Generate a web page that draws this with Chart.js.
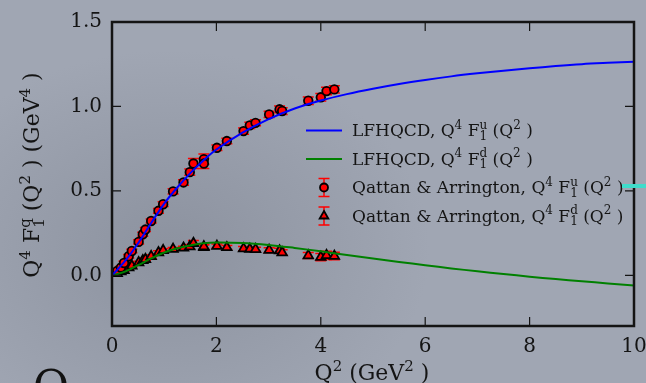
<!DOCTYPE html>
<html>
<head>
<meta charset="utf-8">
<script src="https://cdn.jsdelivr.net/npm/chart.js@4.4.1/dist/chart.umd.min.js"></script>
<style>
  html, body { margin: 0; padding: 0; }
  body {
    width: 646px; height: 383px; overflow: hidden;
    background: radial-gradient(ellipse 260px 200px at 170px 250px, #8c929f 0%, #959ba8 45%, #a0a6b3 100%) , #a0a6b3;
  }
  canvas { display: block; }
</style>
</head>
<body>
<canvas id="chart" width="646" height="383"></canvas>
<script>
// LFHQCD curves, sampled along Q^2
const q2Grid = [0, 0.25, 0.5, 0.75, 1, 1.25, 1.5, 1.75, 2, 2.5, 3, 3.5, 4, 4.5, 5, 5.5, 6, 6.5, 7, 7.5, 8, 8.5, 9, 9.5, 10];
const fuCurve = [0, 0.085, 0.19, 0.31, 0.425, 0.52, 0.605, 0.68, 0.745, 0.845, 0.925, 0.988, 1.035, 1.073, 1.105, 1.133, 1.157, 1.178, 1.196, 1.212, 1.226, 1.239, 1.250, 1.258, 1.265];
const fdCurve = [0, 0.022, 0.06, 0.10, 0.135, 0.16, 0.177, 0.19, 0.195, 0.192, 0.180, 0.162, 0.142, 0.120, 0.099, 0.079, 0.060, 0.041, 0.024, 0.008, -0.008, -0.022, -0.035, -0.048, -0.06];

// Qattan & Arrington flavor-separated data
const q2Data = [0.10, 0.17, 0.23, 0.32, 0.38, 0.51, 0.59, 0.64, 0.75, 0.89, 0.98, 1.17, 1.37, 1.49, 1.56, 1.76, 1.76, 2.01, 2.20, 2.52, 2.64, 2.75, 3.01, 3.21, 3.26, 3.76, 4.00, 4.11, 4.26];
const fuData = [0.026, 0.046, 0.073, 0.113, 0.144, 0.198, 0.243, 0.271, 0.322, 0.382, 0.421, 0.497, 0.550, 0.611, 0.662, 0.688, 0.662, 0.755, 0.795, 0.854, 0.888, 0.903, 0.953, 0.983, 0.973, 1.034, 1.054, 1.091, 1.101];
const fuErr = [0.008, 0.008, 0.010, 0.010, 0.010, 0.012, 0.012, 0.012, 0.012, 0.014, 0.014, 0.015, 0.016, 0.018, 0.030, 0.030, 0.030, 0.016, 0.016, 0.018, 0.018, 0.018, 0.018, 0.020, 0.020, 0.022, 0.022, 0.022, 0.022];
const fdData = [0.012, 0.022, 0.030, 0.046, 0.056, 0.076, 0.088, 0.095, 0.112, 0.135, 0.148, 0.155, 0.162, 0.170, 0.190, 0.165, 0.170, 0.173, 0.165, 0.158, 0.156, 0.154, 0.149, 0.146, 0.135, 0.117, 0.108, 0.118, 0.114];
const fdErr = [0.006, 0.006, 0.006, 0.008, 0.008, 0.008, 0.008, 0.008, 0.010, 0.010, 0.010, 0.010, 0.010, 0.012, 0.016, 0.014, 0.014, 0.012, 0.012, 0.012, 0.012, 0.012, 0.014, 0.014, 0.016, 0.018, 0.022, 0.024, 0.022];

const xTicks = [0, 2, 4, 6, 8, 10];
const yTicks = [0.0, 0.5, 1.0, 1.5];

const SERIF = '"DejaVu Serif", serif';
const INK = '#141414';

const pts = (xs, ys) => xs.map((x, i) => ({ x, y: ys[i] }));

// text with superscripts / stacked super+subscripts
function richWidth(ctx, parts, size) {
  let w = 0;
  for (const p of parts) {
    if (typeof p === 'string') {
      ctx.font = size + 'px ' + SERIF;
      w += ctx.measureText(p).width;
    } else {
      ctx.font = Math.round(size * 0.7) + 'px ' + SERIF;
      w += Math.max(ctx.measureText(p.sup || '').width, ctx.measureText(p.sub || '').width);
    }
  }
  return w;
}

function drawRich(ctx, parts, x, y, size) {
  ctx.textAlign = 'left';
  ctx.textBaseline = 'alphabetic';
  for (const p of parts) {
    if (typeof p === 'string') {
      ctx.font = size + 'px ' + SERIF;
      ctx.fillText(p, x, y);
      x += ctx.measureText(p).width;
    } else {
      ctx.font = Math.round(size * 0.7) + 'px ' + SERIF;
      let w = 0;
      if (p.sup) { ctx.fillText(p.sup, x, y - size * 0.42); w = ctx.measureText(p.sup).width; }
      if (p.sub) { ctx.fillText(p.sub, x, y + size * 0.22); w = Math.max(w, ctx.measureText(p.sub).width); }
      x += w;
    }
  }
}

const legendItems = [
  { kind: 'line', color: '#0000ff', text: ['LFHQCD, Q', { sup: '4' }, ' F', { sup: 'u', sub: '1' }, ' (Q', { sup: '2' }, ' )'] },
  { kind: 'line', color: '#008000', text: ['LFHQCD, Q', { sup: '4' }, ' F', { sup: 'd', sub: '1' }, ' (Q', { sup: '2' }, ' )'] },
  { kind: 'circle', text: ['Qattan & Arrington, Q', { sup: '4' }, ' F', { sup: 'u', sub: '1' }, ' (Q', { sup: '2' }, ' )'] },
  { kind: 'triangle', text: ['Qattan & Arrington, Q', { sup: '4' }, ' F', { sup: 'd', sub: '1' }, ' (Q', { sup: '2' }, ' )'] },
];

function marker(ctx, style, x, y, r) {
  ctx.save();
  ctx.fillStyle = '#ff0000';
  ctx.strokeStyle = '#000000';
  ctx.lineWidth = 1.8;
  Chart.helpers.drawPoint(ctx, { pointStyle: style, radius: r, rotation: 0, borderWidth: 1.8 }, x, y);
  ctx.restore();
}

function errorBar(ctx, x, y1, y2, cap) {
  ctx.beginPath();
  ctx.moveTo(x, y1); ctx.lineTo(x, y2);
  ctx.moveTo(x - cap, y1); ctx.lineTo(x + cap, y1);
  ctx.moveTo(x - cap, y2); ctx.lineTo(x + cap, y2);
  ctx.stroke();
}

const errorBars = {
  id: 'errorBars',
  beforeDatasetsDraw(chart) {
    const { ctx, scales: { x, y } } = chart;
    ctx.save();
    ctx.strokeStyle = '#ff0000';
    ctx.lineWidth = 1.5;
    chart.data.datasets.forEach(ds => {
      if (!ds.errors) return;
      ds.data.forEach((p, i) => {
        const px = x.getPixelForValue(p.x);
        errorBar(ctx, px, y.getPixelForValue(p.y + ds.errors[i]), y.getPixelForValue(p.y - ds.errors[i]), 5.5);
      });
    });
    ctx.restore();
  }
};

const frame = {
  id: 'frame',
  afterDraw(chart) {
    const { ctx, chartArea: a, scales: { x, y } } = chart;
    ctx.save();
    ctx.strokeStyle = INK;
    // inward ticks on all four sides
    ctx.lineWidth = 1.2;
    ctx.beginPath();
    x.ticks.forEach(t => {
      const px = x.getPixelForValue(t.value);
      ctx.moveTo(px, a.bottom); ctx.lineTo(px, a.bottom - 9);
      ctx.moveTo(px, a.top); ctx.lineTo(px, a.top + 9);
    });
    y.ticks.forEach(t => {
      const py = y.getPixelForValue(t.value);
      ctx.moveTo(a.left, py); ctx.lineTo(a.left + 9, py);
      ctx.moveTo(a.right, py); ctx.lineTo(a.right - 9, py);
    });
    ctx.stroke();
    ctx.lineWidth = 2.5;
    ctx.strokeRect(a.left, a.top, a.right - a.left, a.bottom - a.top);

    // legend
    legendItems.forEach((it, i) => {
      const cy = 130.5 + i * 28.5;
      if (it.kind === 'line') {
        ctx.strokeStyle = it.color;
        ctx.lineWidth = 2;
        ctx.beginPath(); ctx.moveTo(306, cy); ctx.lineTo(342, cy); ctx.stroke();
      } else {
        ctx.strokeStyle = '#ff0000';
        ctx.lineWidth = 1.5;
        errorBar(ctx, 324, cy - 9, cy + 9, 5.5);
        marker(ctx, it.kind, 324, cy, it.kind === 'circle' ? 4 : 5);
      }
      ctx.fillStyle = INK;
      drawRich(ctx, it.text, 352, cy + 5.5, 17);
    });

    // axis titles
    const xt = ['Q', { sup: '2' }, ' (GeV', { sup: '2' }, ' )'];
    drawRich(ctx, xt, 372 - richWidth(ctx, xt, 22) / 2, 380, 22);
    const yt = ['Q', { sup: '4' }, ' F', { sup: 'q', sub: '1' }, ' (Q', { sup: '2' }, ' ) (GeV', { sup: '4' }, ' )'];
    ctx.save();
    ctx.translate(39, 175);
    ctx.rotate(-Math.PI / 2);
    drawRich(ctx, yt, -richWidth(ctx, yt, 22) / 2, 0, 22);
    ctx.restore();

    // surrounding page bits
    ctx.font = '44px ' + SERIF;
    ctx.fillStyle = '#111';
    ctx.fillText('Q', 33, 402);
    ctx.fillStyle = '#3fdccb';
    ctx.fillRect(622, 184, 24, 4);
    ctx.restore();
  }
};

new Chart(document.getElementById('chart'), {
  type: 'scatter',
  data: {
    datasets: [
      {
        label: 'LFHQCD u',
        data: pts(q2Grid, fuCurve),
        showLine: true,
        borderColor: '#0000ff',
        borderWidth: 2,
        pointRadius: 0,
        tension: 0.35,
        order: 0,
      },
      {
        label: 'LFHQCD d',
        data: pts(q2Grid, fdCurve),
        showLine: true,
        borderColor: '#008000',
        borderWidth: 2,
        pointRadius: 0,
        tension: 0.35,
        order: 0,
      },
      {
        label: 'Qattan & Arrington u',
        data: pts(q2Data, fuData),
        errors: fuErr,
        pointStyle: 'circle',
        pointRadius: 4.3,
        backgroundColor: '#ff0000',
        borderColor: '#000000',
        borderWidth: 1.8,
        order: 1,
      },
      {
        label: 'Qattan & Arrington d',
        data: pts(q2Data, fdData),
        errors: fdErr,
        pointStyle: 'triangle',
        pointRadius: 5.5,
        backgroundColor: '#ff0000',
        borderColor: '#000000',
        borderWidth: 1.8,
        order: 1,
      },
    ],
  },
  options: {
    responsive: false,
    animation: false,
    layout: { padding: { top: 22, right: 12, left: 0, bottom: 0 } },
    plugins: { legend: { display: false }, tooltip: { enabled: false } },
    scales: {
      x: {
        type: 'linear',
        min: 0,
        max: 10,
        afterBuildTicks: s => { s.ticks = xTicks.map(v => ({ value: v })); },
        afterFit: s => { s.height = 57; s.paddingLeft = 0; s.paddingRight = 0; },
        grid: { display: false, drawTicks: false },
        border: { display: false },
        ticks: { color: INK, font: { family: SERIF, size: 20 }, padding: 9, maxRotation: 0, callback: v => String(v) },
      },
      y: {
        type: 'linear',
        min: -0.3,
        max: 1.5,
        afterBuildTicks: s => { s.ticks = yTicks.map(v => ({ value: v })); },
        afterFit: s => { s.width = 112; s.paddingTop = 0; s.paddingBottom = 0; },
        grid: { display: false, drawTicks: false },
        border: { display: false },
        ticks: { color: INK, font: { family: SERIF, size: 20 }, padding: 10, callback: v => v.toFixed(1) },
      },
    },
  },
  plugins: [errorBars, frame],
});
</script>
</body>
</html>
